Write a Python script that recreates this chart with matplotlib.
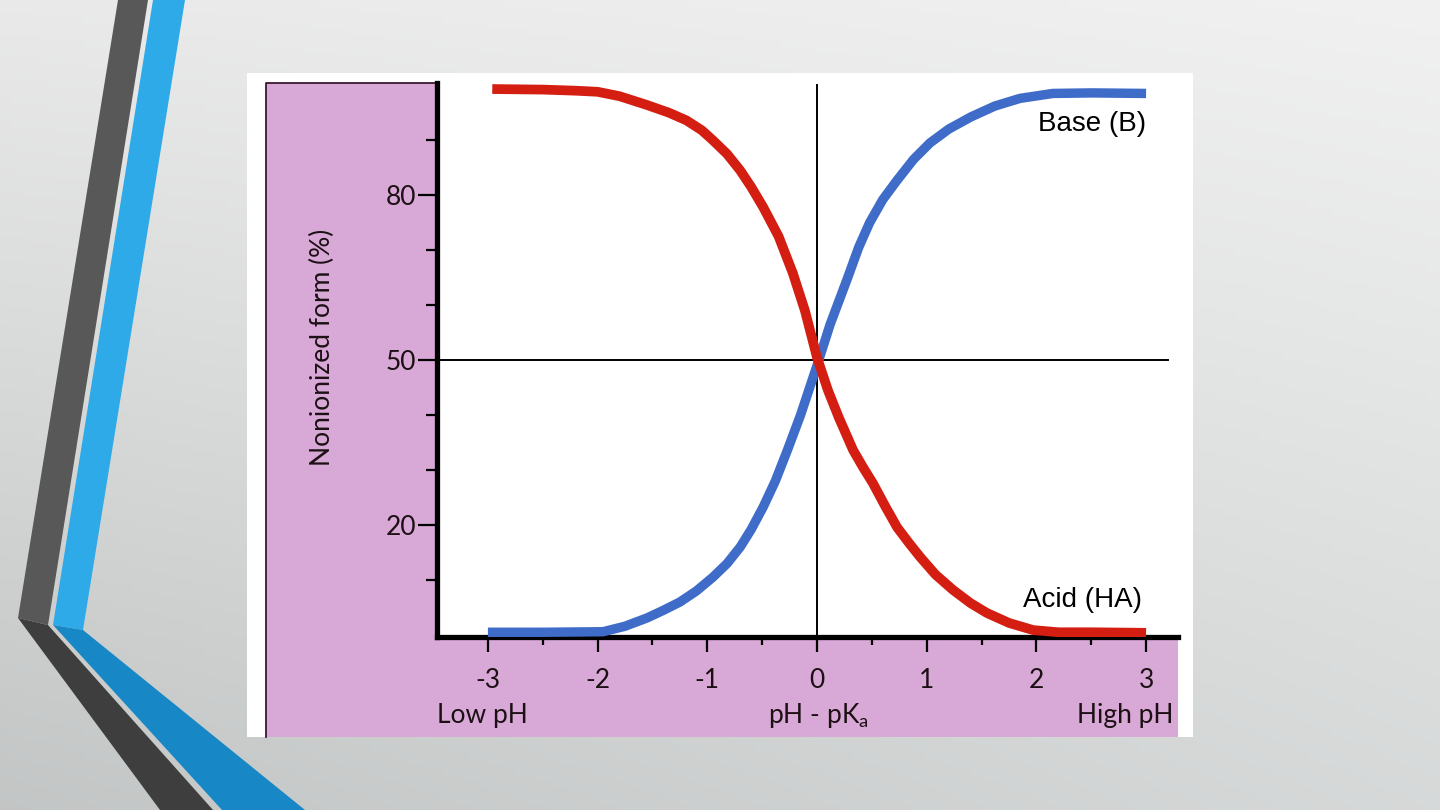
import numpy as np
import matplotlib
matplotlib.use("Agg")
import matplotlib.pyplot as plt
from matplotlib.patches import Polygon, Rectangle
from matplotlib.ticker import FixedLocator, MultipleLocator

# values (pH - pKa, % nonionized)
base_x = [-3.0, -2.5, -1.95, -1.75, -1.55, -1.40, -1.25, -1.10, -0.95, -0.82, -0.70,
          -0.60, -0.49, -0.38, -0.27, -0.15, 0.0, 0.12, 0.28, 0.38, 0.48, 0.60,
          0.73, 0.88, 1.03, 1.20, 1.40, 1.62, 1.85, 2.15, 2.5, 3.0]
base_y = [0.5, 0.5, 0.6, 1.6, 3.1, 4.5, 6.0, 8.0, 10.5, 13.0, 16.0,
          19.2, 23.3, 28.0, 33.6, 40.0, 49.0, 56.5, 65.0, 70.5, 75.0, 79.2,
          82.7, 86.5, 89.5, 92.0, 94.2, 96.2, 97.6, 98.5, 98.6, 98.5]
acid_x = [-2.96, -2.5, -2.2, -2.0, -1.8, -1.55, -1.35, -1.19, -1.05, -0.95, -0.82,
          -0.70, -0.60, -0.49, -0.35, -0.22, -0.11, 0.0, 0.10, 0.20, 0.33, 0.42,
          0.51, 0.62, 0.73, 0.84, 0.94, 1.08, 1.24, 1.40, 1.55, 1.75, 1.97, 2.2, 2.5, 3.0]
acid_y = [99.3, 99.2, 99.0, 98.8, 98.0, 96.4, 95.0, 93.6, 91.8, 90.0, 87.5,
          84.5, 81.5, 77.8, 72.5, 65.8, 59.0, 50.5, 44.5, 39.5, 33.6, 30.5,
          27.6, 23.5, 19.6, 16.7, 14.2, 11.0, 8.2, 5.8, 4.0, 2.2, 0.9, 0.5, 0.5, 0.4]

y_major = [20, 50, 80]
y_minor = [10, 30, 40, 60, 70, 90]
x_major = [-3, -2, -1, 0, 1, 2, 3]

W, H = 1440, 810
fig = plt.figure(figsize=(14.4, 8.1), dpi=100)

# slide background
bg = fig.add_axes([0, 0, 1, 1])
bg.set_xlim(0, W)
bg.set_ylim(H, 0)
bg.axis("off")
gx, gy = np.meshgrid(np.linspace(0, 1, 240), np.linspace(0, 1, 140))
lum = 0.945 - 0.17 * gy * (1 - 0.45 * gx) - 0.03 * (1 - gx) * (1 - gy)
rgb = np.dstack([lum - 0.01 * gy, lum, lum]).clip(0, 1)
bg.imshow(rgb, extent=[0, W, H, 0], aspect="auto", zorder=0)

stripes = [
    ([(118, 0), (148, 0), (48, 625), (18, 618)], "#585858"),
    ([(18, 618), (48, 625), (213, 810), (160, 810)], "#3e3e3e"),
    ([(153, 0), (185, 0), (83, 630), (53, 625)], "#2eaae8"),
    ([(53, 625), (83, 630), (305, 810), (222, 810)], "#1787c6"),
]
for pts, c in stripes:
    bg.add_patch(Polygon(pts, closed=True, facecolor=c, edgecolor="none", zorder=1))

# picture card with pink margins
pink = "#d8a8d6"
bg.add_patch(Rectangle((247, 73), 946, 664, facecolor="white", edgecolor="none", zorder=2))
bg.add_patch(Rectangle((266, 83), 171, 654, facecolor=pink, edgecolor="none", zorder=3))
bg.add_patch(Rectangle((266, 637), 912, 100, facecolor=pink, edgecolor="none", zorder=3))
bg.plot([266, 266, 437], [737, 83, 83], color="#3a1a30", lw=1.3, zorder=4)

# main chart
ax = fig.add_axes([437 / W, 1 - 637 / H, (1178 - 437) / W, (637 - 83) / H])
ax.set_facecolor("white")
ax.set_xlim(-3.464, 3.291)
ax.set_ylim(-0.36, 100.4)

ax.plot(base_x, base_y, color="#3f6cc8", lw=6.8, solid_capstyle="butt",
        solid_joinstyle="round", zorder=3)
ax.plot(acid_x, acid_y, color="#d41e12", lw=7.0, solid_capstyle="butt",
        solid_joinstyle="round", zorder=4)
ax.plot([0, 0], [0, 100], color="black", lw=1.4, zorder=2)
ax.plot([-3.464, 3.2], [50, 50], color="black", lw=1.4, zorder=2)

for s in ["top", "right"]:
    ax.spines[s].set_visible(False)
for s in ["left", "bottom"]:
    ax.spines[s].set_linewidth(3.8)
    ax.spines[s].set_color("black")

ink = "#1c1014"
tick_font = dict(family="Lato", size=19)
ax.yaxis.set_major_locator(FixedLocator(y_major))
ax.yaxis.set_minor_locator(FixedLocator(y_minor))
ax.xaxis.set_major_locator(FixedLocator(x_major))
ax.xaxis.set_minor_locator(MultipleLocator(0.5))
ax.set_yticklabels([str(v) for v in y_major], fontdict=tick_font, color=ink)
ax.set_xticklabels([str(v) for v in x_major], fontdict=tick_font, color=ink)
ax.tick_params(axis="y", which="major", direction="out", length=14, width=1.6, pad=1)
ax.tick_params(axis="y", which="minor", direction="out", length=8, width=1.6)
ax.tick_params(axis="x", which="major", direction="out", length=11, width=1.6, pad=11)
ax.tick_params(axis="x", which="minor", direction="out", length=6, width=1.6)

ax.text(3.0, 92.9, "Base (B)", ha="right", va="center", family="Liberation Sans", fontsize=20)
ax.text(2.96, 6.4, "Acid (HA)", ha="right", va="center", family="Liberation Sans", fontsize=20)

lab = dict(family="Lato", fontsize=19, color=ink)
fig.text(322 / W, 1 - 347 / H, "Nonionized form (%)", rotation=90, ha="center", va="center", **lab)
fig.text(482 / W, 1 - 715 / H, "Low pH", ha="center", va="center", **lab)
fig.text(1173 / W, 1 - 715 / H, "High pH", ha="right", va="center", **lab)
fig.text(818 / W, 1 - 715 / H, r"pH - pK$_\mathregular{a}$", ha="center", va="center", **lab)

fig.savefig("out.png", dpi=100)
